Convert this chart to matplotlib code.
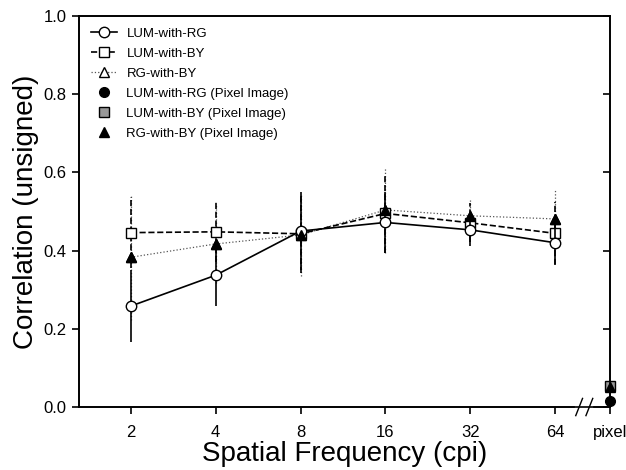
import matplotlib.pyplot as plt
from matplotlib.lines import Line2D
import numpy as np

plt.rcParams['font.family'] = ['Liberation Sans', 'DejaVu Sans']

freqs = ['2', '4', '8', '16', '32', '64']
pixel_label = 'pixel'

lum_rg = [0.258, 0.337, 0.450, 0.472, 0.453, 0.420]
lum_rg_err = [0.092, 0.078, 0.100, 0.078, 0.040, 0.055]
lum_by = [0.446, 0.448, 0.443, 0.495, 0.471, 0.444]
lum_by_err = [0.090, 0.078, 0.100, 0.100, 0.050, 0.080]
rg_by = [0.383, 0.417, 0.440, 0.504, 0.489, 0.481]
rg_by_err = [0.160, 0.100, 0.105, 0.110, 0.040, 0.075]

pix_lum_rg = 0.016
pix_lum_by = 0.054
pix_rg_by = 0.050

fig = plt.figure(figsize=(6.26, 4.70), dpi=100)
ax = fig.add_axes([0.126, 0.134, 0.848, 0.832])

x = np.arange(len(freqs))
x_pix = 5.64

eb = ax.errorbar(x, rg_by, yerr=rg_by_err, color='#555555', ls=':', lw=0.9,
                 marker='^', ms=7, mfc='white', mec='black', mew=1.0, zorder=2)
eb[2][0].set_linestyle(':')
eb = ax.errorbar(x, lum_by, yerr=lum_by_err, color='black', ls='--', lw=1.2,
                 marker='s', ms=7, mfc='white', mec='black', mew=1.0, zorder=3)
eb[2][0].set_linestyle('--')
ax.errorbar(x, lum_rg, yerr=lum_rg_err, color='black', ls='-', lw=1.2,
            marker='o', ms=7.5, mfc='white', mec='black', mew=1.0, zorder=4)
# filled triangles drawn over the open ones
ax.plot(x, rg_by, ls='none', marker='^', ms=7, color='black', zorder=5)

ax.plot([x_pix], [pix_lum_by], ls='none', marker='s', ms=7, mfc='#999999',
        mec='black', clip_on=False, zorder=6)
ax.plot([x_pix], [pix_rg_by], ls='none', marker='^', ms=7, color='black',
        clip_on=False, zorder=7)
ax.plot([x_pix], [pix_lum_rg], ls='none', marker='o', ms=7, color='black',
        clip_on=False, zorder=8)

ax.set_xlim(-0.61, x_pix)
ax.set_ylim(0, 1.0)
ax.set_xticks(list(x) + [x_pix])
ax.set_xticklabels(freqs + [pixel_label], fontsize=12)
ax.set_yticks(np.arange(0, 1.01, 0.2))
ax.set_yticklabels(['%.1f' % v for v in np.arange(0, 1.01, 0.2)], fontsize=12)
ax.tick_params(axis='x', direction='out', length=5, width=1.2, pad=8)
ax.tick_params(axis='y', direction='out', length=5, width=1.2, pad=4)
for s in ax.spines.values():
    s.set_linewidth(1.2)

# right axis ticks at the pixel column
ax2 = ax.twinx()
ax2.set_ylim(0, 1.0)
ax2.set_yticks(np.arange(0, 1.01, 0.2))
ax2.set_yticklabels([])
ax2.tick_params(axis='y', direction='in', length=5, width=1.2)
for s in ax2.spines.values():
    s.set_linewidth(1.2)

# axis break on x
ax.spines['bottom'].set_bounds(-0.61, 5.22)
ax.plot([5.46, x_pix], [0, 0], color='black', lw=1.2, clip_on=False)
for xb in [5.28, 5.40]:
    ax.plot([xb - 0.04, xb + 0.04], [-0.022, 0.022], color='black', lw=1.0,
            clip_on=False)

ax.set_xlabel('Spatial Frequency (cpi)', fontsize=20, labelpad=1)
ax.set_ylabel('Correlation (unsigned)', fontsize=20, labelpad=3)

handles = [
    Line2D([], [], color='black', ls='-', lw=1.2, marker='o', ms=7.5, mfc='white'),
    Line2D([], [], color='black', ls='--', lw=1.2, marker='s', ms=7, mfc='white'),
    Line2D([], [], color='#555555', ls=':', lw=0.9, marker='^', ms=7, mfc='white', mec='black'),
    Line2D([], [], ls='none', marker='o', ms=7, color='black'),
    Line2D([], [], ls='none', marker='s', ms=7, mfc='#999999', mec='black'),
    Line2D([], [], ls='none', marker='^', ms=7, color='black'),
]
labels = ['LUM-with-RG', 'LUM-with-BY', 'RG-with-BY', 'LUM-with-RG (Pixel Image)',
          'LUM-with-BY (Pixel Image)', 'RG-with-BY (Pixel Image)']
ax.legend(handles, labels, loc='upper left', frameon=False,
          fontsize=9.5, handlelength=2.0, handletextpad=0.7, labelspacing=0.58,
          borderaxespad=0.5)

fig.savefig('out.png', dpi=100)
